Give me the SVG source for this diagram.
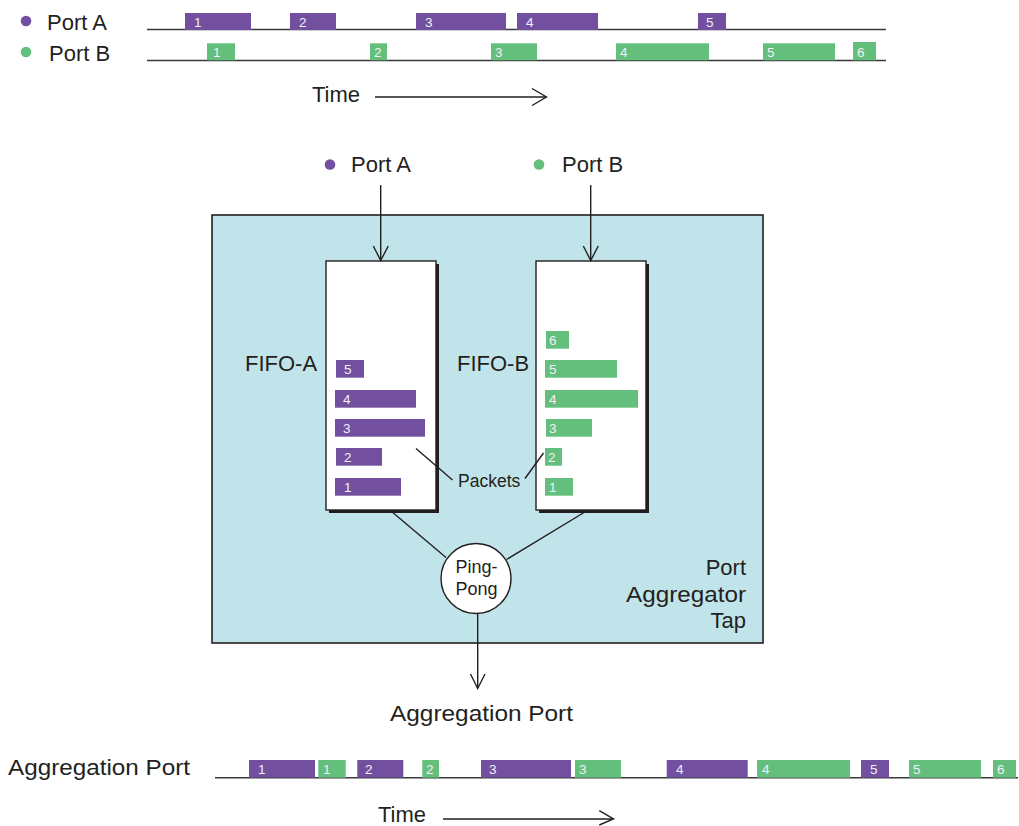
<svg xmlns="http://www.w3.org/2000/svg" width="1019" height="826" viewBox="0 0 1019 826">
<defs>
<style>
.t{font-family:"Liberation Sans",Arial,sans-serif;fill:#231f20}
.lbl{font-size:22px}
.num{font-family:"Liberation Sans",Arial,sans-serif;font-size:13.5px;fill:#f4f0f8}
.pa{fill:#734fa0}
.pb{fill:#63bf7b}
.ln{stroke:#3a3a3a;stroke-width:1.6;fill:none}
.ax{stroke:#231f20;stroke-width:1.4;fill:none}
</style>
</defs>
<rect width="1019" height="826" fill="#fff"/>

<g id="top-timeline">
<circle cx="26" cy="21" r="5.3" class="pa"/>
<text class="t lbl" x="47" y="30">Port A</text>
<circle cx="26" cy="52" r="5.3" class="pb"/>
<text class="t lbl" x="49" y="61">Port B</text>
<line class="ln" x1="147" y1="29.5" x2="886" y2="29.5"/>
<line class="ln" x1="147" y1="60.5" x2="886" y2="60.5"/>
<rect class="pa" x="185" y="13" width="66" height="17"/><text class="num" x="194" y="27">1</text>
<rect class="pa" x="290" y="13" width="46" height="17"/><text class="num" x="299" y="27">2</text>
<rect class="pa" x="416" y="13" width="90" height="17"/><text class="num" x="425" y="27">3</text>
<rect class="pa" x="517" y="13" width="81" height="17"/><text class="num" x="526" y="27">4</text>
<rect class="pa" x="698" y="13" width="28" height="17"/><text class="num" x="706" y="27">5</text>
<rect class="pb" x="207" y="43.3" width="28" height="17"/><text class="num" x="213" y="57">1</text>
<rect class="pb" x="370" y="43.3" width="17" height="17"/><text class="num" x="374" y="57">2</text>
<rect class="pb" x="491" y="43.3" width="46" height="17"/><text class="num" x="495" y="57">3</text>
<rect class="pb" x="616" y="43.3" width="93" height="17"/><text class="num" x="620" y="57">4</text>
<rect class="pb" x="763" y="43.3" width="72" height="17"/><text class="num" x="767" y="57">5</text>
<rect class="pb" x="853" y="42" width="23" height="18.3"/><text class="num" x="857" y="57">6</text>
<text class="t lbl" x="312" y="102">Time</text>
<line class="ax" x1="375" y1="97" x2="546" y2="97"/>
<polyline class="ax" points="532,88.5 546.5,97 532,105.5"/>
</g>

<g id="tap-box">
<rect x="212" y="215" width="551" height="428" fill="#c0e4e9" stroke="#231f20" stroke-width="1.6"/>
<text class="t lbl" text-anchor="end" x="746" y="575">Port</text>
<text class="t lbl" text-anchor="end" x="746" y="602" textLength="120" lengthAdjust="spacingAndGlyphs">Aggregator</text>
<text class="t lbl" text-anchor="end" x="746" y="628">Tap</text>
</g>

<g id="port-a-in">
<circle cx="330" cy="164.5" r="5.3" class="pa"/>
<text class="t lbl" x="351" y="172">Port A</text>
</g>
<g id="port-b-in">
<circle cx="539" cy="164.5" r="5.3" class="pb"/>
<text class="t lbl" x="562" y="172">Port B</text>
</g>

<g id="fifo-a">
<rect x="329" y="264" width="110" height="249" fill="#231f20"/>
<rect x="326" y="261" width="110" height="249" fill="#fff" stroke="#231f20" stroke-width="1.4"/>
<text class="t lbl" x="245" y="371">FIFO-A</text>
<rect class="pa" x="336" y="360" width="28" height="17.7"/><text class="num" x="344" y="374">5</text>
<rect class="pa" x="335" y="390" width="81" height="17.7"/><text class="num" x="343" y="404">4</text>
<rect class="pa" x="335" y="419" width="90" height="17.7"/><text class="num" x="343" y="433">3</text>
<rect class="pa" x="336" y="448" width="46" height="17.7"/><text class="num" x="344" y="462">2</text>
<rect class="pa" x="335" y="478" width="66" height="17.7"/><text class="num" x="344" y="492">1</text>
</g>

<g id="fifo-b">
<rect x="539" y="264" width="110" height="249" fill="#231f20"/>
<rect x="536" y="261" width="110" height="249" fill="#fff" stroke="#231f20" stroke-width="1.4"/>
<text class="t lbl" x="457" y="371">FIFO-B</text>
<rect class="pb" x="546" y="331" width="23" height="17.7"/><text class="num" x="549" y="345">6</text>
<rect class="pb" x="545" y="360" width="72" height="17.7"/><text class="num" x="549" y="374">5</text>
<rect class="pb" x="545" y="390" width="93" height="17.7"/><text class="num" x="549" y="404">4</text>
<rect class="pb" x="546" y="419" width="46" height="17.7"/><text class="num" x="549" y="433">3</text>
<rect class="pb" x="545" y="448" width="17" height="17.7"/><text class="num" x="548" y="462">2</text>
<rect class="pb" x="545" y="478" width="28" height="17.7"/><text class="num" x="549" y="492">1</text>
</g>

<g id="packets-label">
<text class="t" font-size="17.5" x="458" y="487">Packets</text>
<line class="ax" x1="416" y1="448.5" x2="452.5" y2="480"/>
<line class="ax" x1="525" y1="478.5" x2="543.5" y2="453"/>
</g>

<g id="ping-pong">
<circle cx="476" cy="578.5" r="35" fill="#fff" stroke="#231f20" stroke-width="1.4"/>
<text class="t" font-size="18" text-anchor="middle" x="476.5" y="573">Ping-</text>
<text class="t" font-size="18" text-anchor="middle" x="476.5" y="595">Pong</text>
</g>

<g id="aggregation-port-out">
<text class="t lbl" x="390" y="721" textLength="183" lengthAdjust="spacingAndGlyphs">Aggregation Port</text>
</g>

<g id="connectors">
<line class="ax" x1="380.7" y1="185" x2="380.7" y2="260"/>
<polyline class="ax" points="373.3,246 380.7,260.5 388.3,246"/>
<line class="ax" x1="590.7" y1="185" x2="590.7" y2="260"/>
<polyline class="ax" points="583.3,246 590.7,260.5 598.3,246"/>
<line class="ax" x1="391" y1="511" x2="446" y2="557.5"/>
<line class="ax" x1="586.5" y1="511" x2="506.5" y2="559.5"/>
<line class="ax" x1="477.7" y1="613.5" x2="477.7" y2="688"/>
<polyline class="ax" points="470.5,674 477.7,688.5 485,674"/>
</g>

<g id="bottom-timeline">
<text class="t lbl" x="8" y="775" textLength="182" lengthAdjust="spacingAndGlyphs">Aggregation Port</text>
<line class="ln" x1="215" y1="777.8" x2="1018" y2="777.8"/>
<rect class="pa" x="249" y="760" width="66" height="17.7"/><text class="num" x="258" y="774">1</text>
<rect class="pb" x="318.3" y="760" width="27.4" height="17.7"/><text class="num" x="323" y="774">1</text>
<rect class="pa" x="357.3" y="760" width="46" height="17.7"/><text class="num" x="365" y="774">2</text>
<rect class="pb" x="422.3" y="760" width="16.7" height="17.7"/><text class="num" x="426" y="774">2</text>
<rect class="pa" x="481" y="760" width="90" height="17.7"/><text class="num" x="489" y="774">3</text>
<rect class="pb" x="575" y="760" width="46" height="17.7"/><text class="num" x="579" y="774">3</text>
<rect class="pa" x="666.7" y="760" width="81" height="17.7"/><text class="num" x="676" y="774">4</text>
<rect class="pb" x="757" y="760" width="93" height="17.7"/><text class="num" x="762" y="774">4</text>
<rect class="pa" x="861" y="760" width="28" height="17.7"/><text class="num" x="870" y="774">5</text>
<rect class="pb" x="909" y="760" width="72" height="17.7"/><text class="num" x="913" y="774">5</text>
<rect class="pb" x="993" y="760" width="23" height="17.7"/><text class="num" x="997" y="774">6</text>
<text class="t lbl" x="378" y="822">Time</text>
<line class="ax" x1="443" y1="819" x2="613" y2="819"/>
<polyline class="ax" points="599.3,810.7 613.5,819 599.3,825"/>
</g>
</svg>
